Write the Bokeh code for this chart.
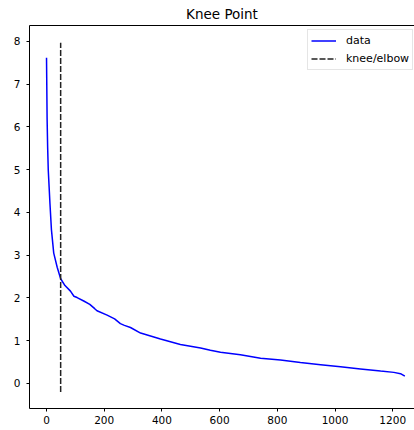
from bokeh.plotting import figure
from bokeh.models import Range1d, FixedTicker, LinearAxis, Legend, LegendItem
from bokeh.embed import file_html
from bokeh.resources import INLINE

# data
x_vals = [0, 2, 4, 6, 9, 12, 17, 25, 37, 49, 64, 83, 95, 106, 129, 150, 167, 175,
          210, 236, 256, 270, 291, 326, 395, 464, 534, 568, 603, 672, 742, 811,
          880, 950, 1019, 1088, 1158, 1204, 1227, 1242]
y_vals = [7.62, 6.2, 5.5, 5.0, 4.6, 4.2, 3.6, 3.05, 2.72, 2.45, 2.29, 2.16, 2.04, 2.01,
          1.93, 1.85, 1.75, 1.70, 1.60, 1.51, 1.40, 1.36, 1.31, 1.18, 1.04, 0.91,
          0.83, 0.78, 0.73, 0.67, 0.59, 0.55, 0.49, 0.44, 0.39, 0.34, 0.29, 0.26,
          0.23, 0.17]
knee_x = [49, 49]
knee_y = [-0.2, 7.97]
x_ticks = [0, 200, 400, 600, 800, 1000, 1200]
y_ticks = [0, 1, 2, 3, 4, 5, 6, 7, 8]

FONT = "DejaVu Sans"

p = figure(width=414, height=430, output_backend="svg", toolbar_location=None,
           x_range=Range1d(-59, 1275.5), y_range=Range1d(-0.585, 8.374),
           min_border_left=29, min_border_right=0, min_border_bottom=22,
           min_border_top=25, title="Knee Point")
p.title.text_font = FONT
p.title.text_font_size = "13.5px"
p.title.text_font_style = "normal"
p.title.align = "center"
p.title.text_color = "black"
p.title.standoff = 7

p.outline_line_color = None
p.xgrid.visible = False
p.ygrid.visible = False

for ax in (p.xaxis[0], p.yaxis[0]):
    ax.major_label_text_font = FONT
    ax.major_label_text_font_size = "10.5px"
    ax.major_label_text_color = "black"
    ax.axis_line_color = "black"
    ax.major_tick_line_color = "black"
    ax.minor_tick_line_color = None
    ax.major_tick_in = 0
    ax.major_tick_out = 3
p.xaxis[0].major_label_standoff = 4
p.yaxis[0].major_label_standoff = 6
p.xaxis[0].ticker = FixedTicker(ticks=x_ticks)
p.yaxis[0].ticker = FixedTicker(ticks=y_ticks)

top = LinearAxis(ticker=FixedTicker(ticks=[]), major_tick_out=0, major_tick_in=0,
                 major_label_text_font_size="0px", axis_line_color="black",
                 minor_tick_line_color=None)
p.add_layout(top, "above")

r_data = p.line(x_vals, y_vals, line_color="blue", line_width=1.5)
r_knee = p.line(knee_x, knee_y, line_color="#222222", line_width=1.5,
                line_dash="6 2")

legend = Legend(items=[LegendItem(label="data", renderers=[r_data]),
                       LegendItem(label="knee/elbow", renderers=[r_knee])],
                location=(278, 338))
legend.label_text_font = FONT
legend.label_text_font_size = "11px"
legend.label_text_color = "black"
legend.glyph_width = 25
legend.glyph_height = 15
legend.label_height = 15
legend.label_standoff = 10
legend.spacing = 3
legend.padding = 3
legend.margin = 0
legend.border_line_color = "#cccccc"
legend.border_line_width = 1
legend.background_fill_alpha = 0.8
p.add_layout(legend, "center")

open("out.html", "w").write(file_html(p, INLINE))
